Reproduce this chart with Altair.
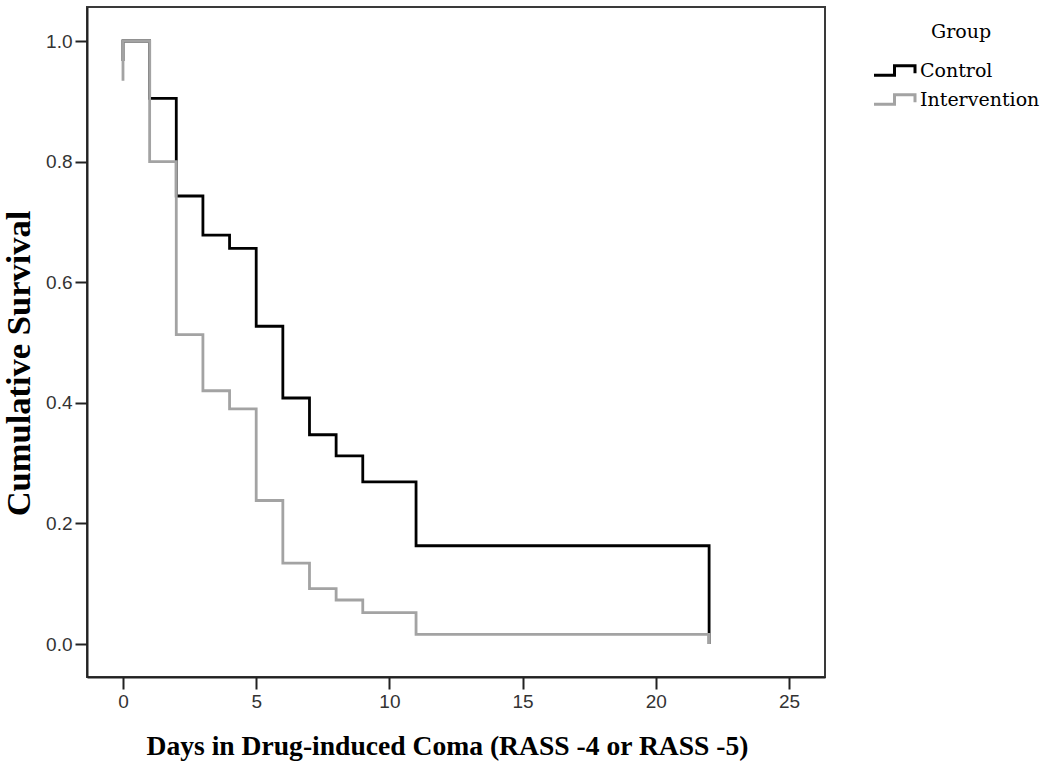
import altair as alt
import pandas as pd

# Kaplan-Meier step points (time in days, cumulative survival)
groups = ["Control", "Intervention"]
control_time = [0, 0, 1, 2, 3, 4, 5, 6, 7, 8, 9, 11, 22]
control_surv = [0.967, 1.0, 0.905, 0.743, 0.678, 0.656, 0.527, 0.408, 0.347, 0.312, 0.269, 0.163, 0.0]
intervention_time = [0, 0, 1, 2, 3, 4, 5, 6, 7, 8, 9, 11, 22]
intervention_surv = [0.934, 1.0, 0.800, 0.513, 0.420, 0.390, 0.238, 0.134, 0.092, 0.073, 0.052, 0.016, 0.0]
x_ticks = [0, 5, 10, 15, 20, 25]
y_ticks = [0.0, 0.2, 0.4, 0.6, 0.8, 1.0]

df_c = pd.DataFrame({"time": control_time, "surv": control_surv,
                     "group": groups[0], "i": range(len(control_time))})
df_i = pd.DataFrame({"time": intervention_time, "surv": intervention_surv,
                     "group": groups[1], "i": range(len(intervention_time))})

xscale = alt.Scale(domain=[-1.351, 26.35], nice=False, zero=False)
yscale = alt.Scale(domain=[-0.0547, 1.0564], nice=False, zero=False)
cscale = alt.Scale(domain=groups, range=["#000000", "#a3a3a3"])

x_enc = alt.X("time:Q", scale=xscale,
              axis=alt.Axis(values=x_ticks, title="Days in Drug-induced Coma (RASS -4 or RASS -5)",
                            format="d", titleX=360))
y_enc = alt.Y("surv:Q", scale=yscale,
              axis=alt.Axis(values=y_ticks, title="Cumulative Survival", format=".1f",
                            titleY=356))
c_enc = alt.Color("group:N", scale=cscale,
                  legend=alt.Legend(title="Group", orient="none", legendX=796, legendY=16,
                                    symbolType="M-2.05,0.47L0,0.47L0,-0.47L2.05,-0.47L2.05,0.27",
                                    symbolSize=400, symbolStrokeWidth=3,
                                    symbolFillColor="transparent",
                                    titleAnchor="middle", labelOffset=14, rowPadding=6,
                                    padding=0))

layer_c = alt.Chart(df_c).mark_line(interpolate="step-after", strokeWidth=2.8).encode(
    x=x_enc, y=y_enc, color=c_enc, order="i:Q")
layer_i = alt.Chart(df_i).mark_line(interpolate="step-after", strokeWidth=2.8).encode(
    x=x_enc, y=y_enc, color=c_enc, order="i:Q")

chart = alt.layer(layer_c, layer_i).properties(
    width=738, height=670,
    autosize=alt.AutoSizeParams(type="none"),
    padding={"left": 87, "top": 7, "right": 225, "bottom": 91},
).configure_view(
    stroke="#3a3a3a", strokeWidth=2
).configure_axis(
    grid=False,
    domainColor="#222222", domainWidth=2,
    tickColor="#222222", tickWidth=2, tickSize=12,
    labelFont="Liberation Sans", labelFontSize=19, labelColor="#333333", labelPadding=3,
    titleFont="Liberation Serif", titleFontWeight="bold", titleColor="#000000",
).configure_axisX(
    titleFontSize=27.6, titlePadding=21,
).configure_axisY(
    titleFontSize=34.5, titlePadding=9,
).configure_legend(
    labelFont="DejaVu Serif", labelFontSize=19, labelColor="#000000",
    titleFont="DejaVu Serif", titleFontSize=19, titleFontWeight="normal", titleColor="#000000",
    titlePadding=17,
)

chart.save("out.html", embed_options={"renderer": "svg", "actions": False})
